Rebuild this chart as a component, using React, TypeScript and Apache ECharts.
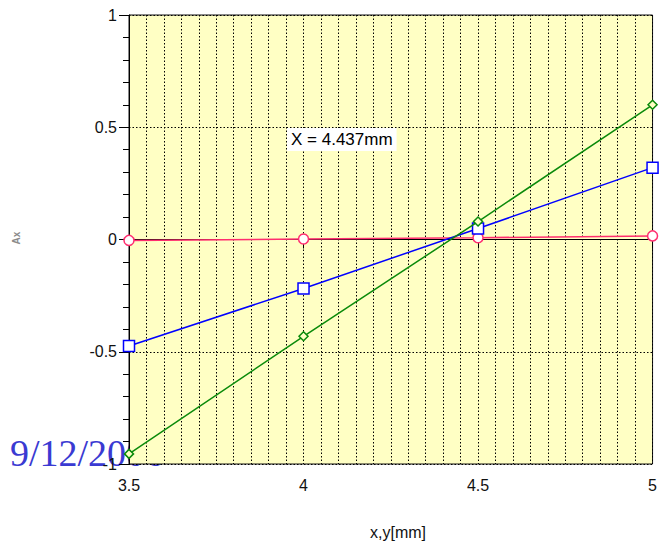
import React, { useEffect, useRef } from "react";
import * as echarts from "echarts";

const xValues = [3.5, 4, 4.5, 5];
const pinkValues = [-0.004, 0.002, 0.008, 0.016];
const blueValues = [-0.474, -0.218, 0.049, 0.32];
const greenValues = [-0.955, -0.431, 0.08, 0.6];
const dateText = "9/12/2006";
const markerText = "X = 4.437mm";
const xAxisName = "x,y[mm]";
const yAxisName = "Ax";

const pair = (vals: number[]) => vals.map((v, i) => [xValues[i], v]);

export default function App() {
  const ref = useRef<HTMLDivElement>(null);
  useEffect(() => {
    if (!ref.current) return;
    const chart = echarts.init(ref.current, null, { renderer: "svg" });
    const dotted = { color: "#000", width: 1, type: [1.5, 2] as any };
    chart.setOption({
      animation: false,
      backgroundColor: "#fff",
      grid: {
        left: 129,
        right: 5,
        top: 15,
        bottom: 81,
        show: true,
        backgroundColor: "#ffffc4",
        borderColor: "#111",
        borderWidth: 1,
        z: 0,
      },
      xAxis: {
        type: "value",
        min: 3.5,
        max: 5,
        interval: 0.5,
        axisLine: { show: true, lineStyle: { color: "#000", width: 1 } },
        axisTick: { show: true, length: 9, inside: false, lineStyle: { color: "#000" } },
        minorTick: { show: false, splitNumber: 10 },
        axisLabel: {
          margin: 13,
          fontFamily: "Liberation Sans, Arial",
          fontSize: 16,
          color: "#111",
        },
        splitLine: { show: true, lineStyle: dotted },
        minorSplitLine: { show: true, lineStyle: dotted },
      },
      yAxis: {
        type: "value",
        min: -1,
        max: 1,
        interval: 0.5,
        axisLine: { show: true, lineStyle: { color: "#000", width: 1 } },
        axisTick: { show: true, length: 10, inside: false, lineStyle: { color: "#000" } },
        minorTick: { show: true, splitNumber: 5, length: 6, lineStyle: { color: "#000" } },
        axisLabel: {
          margin: 12,
          fontFamily: "Liberation Sans, Arial",
          fontSize: 16,
          color: "#111",
        },
        splitLine: { show: true, lineStyle: dotted },
      },
      graphic: [
        {
          type: "text",
          z: -10,
          left: 10,
          top: 434,
          style: {
            text: dateText,
            font: "38px 'Liberation Serif', 'Times New Roman', serif",
            fill: "#3a3ad2",
          },
        },
        {
          type: "text",
          z: 50,
          x: 287,
          y: 128,
          style: {
            text: markerText,
            font: "17px 'Liberation Sans', Arial, sans-serif",
            fill: "#000",
            backgroundColor: "#fff",
            padding: [3, 4, 3, 4],
          },
        },
        {
          type: "text",
          z: 50,
          x: 398,
          y: 532,
          style: {
            text: xAxisName,
            font: "16px 'Liberation Sans', Arial, sans-serif",
            fill: "#111",
            align: "center",
            verticalAlign: "middle",
          },
        },
        {
          type: "text",
          z: 50,
          x: 16,
          y: 238,
          rotation: Math.PI / 2,
          style: {
            text: yAxisName,
            font: "bold 10px 'Liberation Sans', Arial, sans-serif",
            fill: "#8a8a8a",
            align: "center",
            verticalAlign: "middle",
          },
        },
      ],
      series: [
        {
          type: "line",
          data: pair(pinkValues),
          clip: false,
          z: 3,
          symbol: "circle",
          symbolSize: 10,
          lineStyle: { color: "#ff2d6f", width: 1.5 },
          itemStyle: { color: "#fff", borderColor: "#ff2d6f", borderWidth: 1.5 },
        },
        {
          type: "line",
          data: pair(blueValues),
          clip: false,
          z: 4,
          symbol: "rect",
          symbolSize: 11,
          lineStyle: { color: "#0000ff", width: 1.5 },
          itemStyle: { color: "#fff", borderColor: "#0000ff", borderWidth: 1.5 },
        },
        {
          type: "line",
          data: pair(greenValues),
          clip: false,
          z: 5,
          symbol: "diamond",
          symbolSize: 9,
          lineStyle: { color: "#0a8a0a", width: 1.5 },
          itemStyle: { color: "#ffffc4", borderColor: "#0a8a0a", borderWidth: 1.5 },
        },
      ],
    });
    return () => chart.dispose();
  }, []);
  return (
    <div
      ref={ref}
      style={{ position: "fixed", left: 0, top: 0, width: 660, height: 545 }}
    />
  );
}
